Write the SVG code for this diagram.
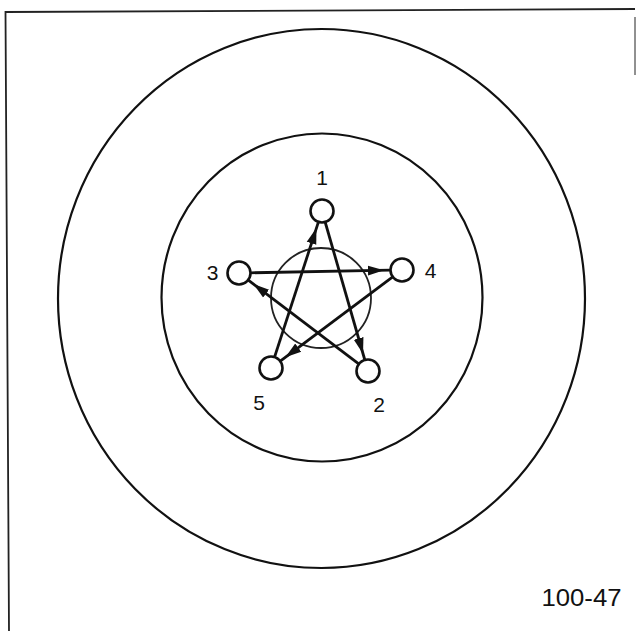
<svg xmlns="http://www.w3.org/2000/svg" width="636" height="631" viewBox="0 0 636 631">
<style>
.ring{fill:none;stroke:#111;stroke-width:2.2}
.node{fill:#fff;stroke:#111;stroke-width:2.6}
.edge{stroke:#111;stroke-width:2.8;fill:none;marker-end:url(#ah)}
.lbl{font-family:"Liberation Sans",Arial,sans-serif;font-size:21px;fill:#111;text-anchor:middle}
</style>
<defs>
<marker id="ah" markerUnits="userSpaceOnUse" markerWidth="30" markerHeight="14" viewBox="0 -7 30 14" refX="22" refY="0" orient="auto">
<path d="M0,-5 L16,0 L0,5 z" fill="#111"/>
</marker>
</defs>
<rect width="636" height="631" fill="#fff"/>
<g id="frame" fill="none" stroke="#222" stroke-width="1.8">
<path d="M9,631 L5.5,12 L635,9"/>
<path d="M635,17 L635,75" stroke-width="1"/>
</g>
<g id="rings">
<ellipse class="ring" cx="321.5" cy="298.5" rx="263.5" ry="269.5"/>
<ellipse class="ring" cx="322" cy="297.5" rx="160.5" ry="164"/>
<circle cx="321" cy="298" r="50" fill="none" stroke="#222" stroke-width="1.8"/>
</g>
<g id="connectors">
<line class="edge" x1="274.7" y1="356.6" x2="318.3" y2="222.4"/>
<line class="edge" x1="325.3" y1="222.5" x2="364.7" y2="359.5"/>
<line class="edge" x1="358.4" y1="363.7" x2="248.6" y2="280.3"/>
<line class="edge" x1="251" y1="272.8" x2="390" y2="270.2"/>
<line class="edge" x1="392.4" y1="277.2" x2="280.6" y2="360.8"/>
</g>
<g id="node1"><circle class="node" cx="322" cy="211" r="11.5"/><text class="lbl" x="322" y="185">1</text></g>
<g id="node2"><circle class="node" cx="368" cy="371" r="11.5"/><text class="lbl" x="379" y="412">2</text></g>
<g id="node3"><circle class="node" cx="239" cy="273" r="11.5"/><text class="lbl" x="212.5" y="280">3</text></g>
<g id="node4"><circle class="node" cx="402" cy="270" r="11.5"/><text class="lbl" x="430.5" y="278">4</text></g>
<g id="node5"><circle class="node" cx="271" cy="368" r="11.5"/><text class="lbl" x="259" y="410">5</text></g>
<text x="541.5" y="605.5" font-family="'Liberation Sans',Arial,sans-serif" font-size="24" fill="#111" textLength="80" lengthAdjust="spacingAndGlyphs">100-47</text>
</svg>
